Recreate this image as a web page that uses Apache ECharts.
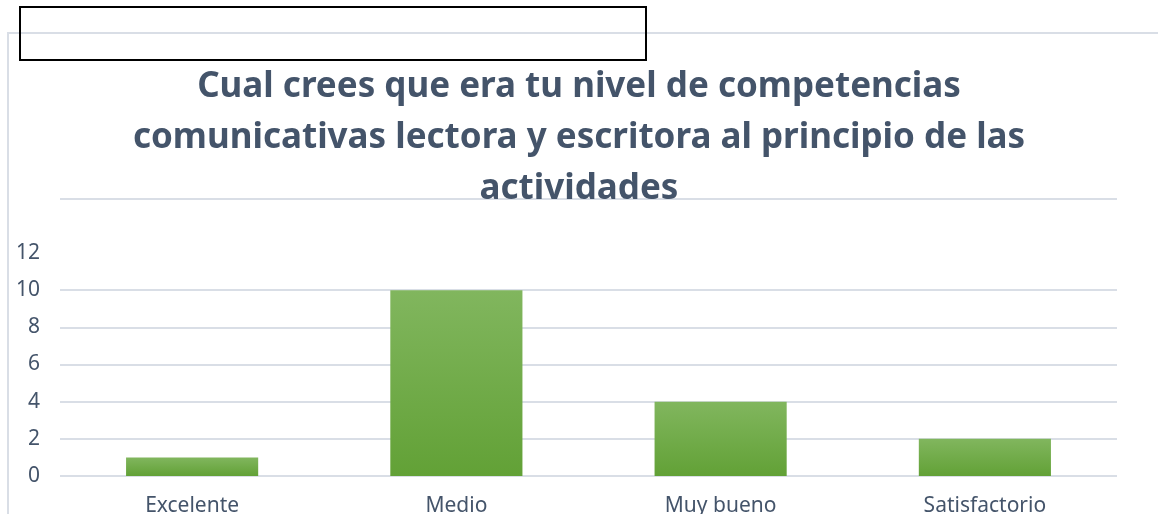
<!DOCTYPE html>
<html>
<head>
<meta charset="utf-8">
<script src="https://cdn.jsdelivr.net/npm/echarts@6/dist/echarts.min.js"></script>
<style>
  html, body { margin: 0; padding: 0; background: #fff; }
  #chart { width: 1158px; height: 514px; }
</style>
</head>
<body>
<div id="chart"></div>
<script>
  // datos del gráfico
  const categorias = ['Excelente', 'Medio', 'Muy bueno', 'Satisfactorio'];
  const valores = [1, 10, 4, 2];
  const lineasGuia = [0, 2, 4, 6, 8, 10];
  const titulo = 'Cual crees que era tu nivel de competencias\ncomunicativas lectora y escritora al principio de las\nactividades';

  const textColor = '#44546A';
  const gridColor = '#D9DEE6';

  let myChart = echarts.init(document.getElementById('chart'));
  myChart.setOption({
    animation: false,
    title: {
      text: titulo,
      left: 'center',
      top: 62,
      padding: 0,
      textStyle: {
        fontFamily: 'Noto Sans',
        fontWeight: 'bold',
        fontSize: 35,
        lineHeight: 51,
        color: textColor,
        align: 'center'
      }
    },
    grid: {
      left: 60,
      right: 41,
      top: 253,
      bottom: 38,
      outerBoundsMode: 'none'
    },
    xAxis: {
      type: 'category',
      data: categorias,
      axisLine: { show: false },
      axisTick: { show: false },
      axisLabel: {
        margin: 20,
        fontFamily: 'Noto Sans',
        fontSize: 21,
        color: textColor
      }
    },
    yAxis: {
      type: 'value',
      min: 0,
      max: 12,
      interval: 2,
      splitLine: { show: false },
      axisLabel: {
        margin: 20,
        fontFamily: 'Noto Sans',
        fontSize: 21,
        color: textColor
      }
    },
    graphic: [
      {
        type: 'polyline',
        shape: { points: [[8, 514], [8, 33], [1158, 33]] },
        style: { stroke: gridColor, lineWidth: 2, fill: null }
      },
      {
        type: 'line',
        shape: { x1: 60, y1: 199, x2: 1117, y2: 199 },
        style: { stroke: gridColor, lineWidth: 2 }
      },
      {
        type: 'rect',
        shape: { x: 20, y: 7, width: 626, height: 53 },
        style: { stroke: '#000', lineWidth: 2, fill: null }
      }
    ],
    series: [
      {
        type: 'bar',
        data: valores,
        barWidth: '50%',
        itemStyle: {
          color: new echarts.graphic.LinearGradient(0, 0, 0, 1, [
            { offset: 0, color: '#81B65E' },
            { offset: 1, color: '#62A136' }
          ])
        },
        markLine: {
          silent: true,
          symbol: 'none',
          label: { show: false },
          lineStyle: { color: gridColor, type: 'solid', width: 2 },
          z: 0,
          data: lineasGuia.map(v => ({ yAxis: v }))
        }
      }
    ]
  });
</script>
</body>
</html>
